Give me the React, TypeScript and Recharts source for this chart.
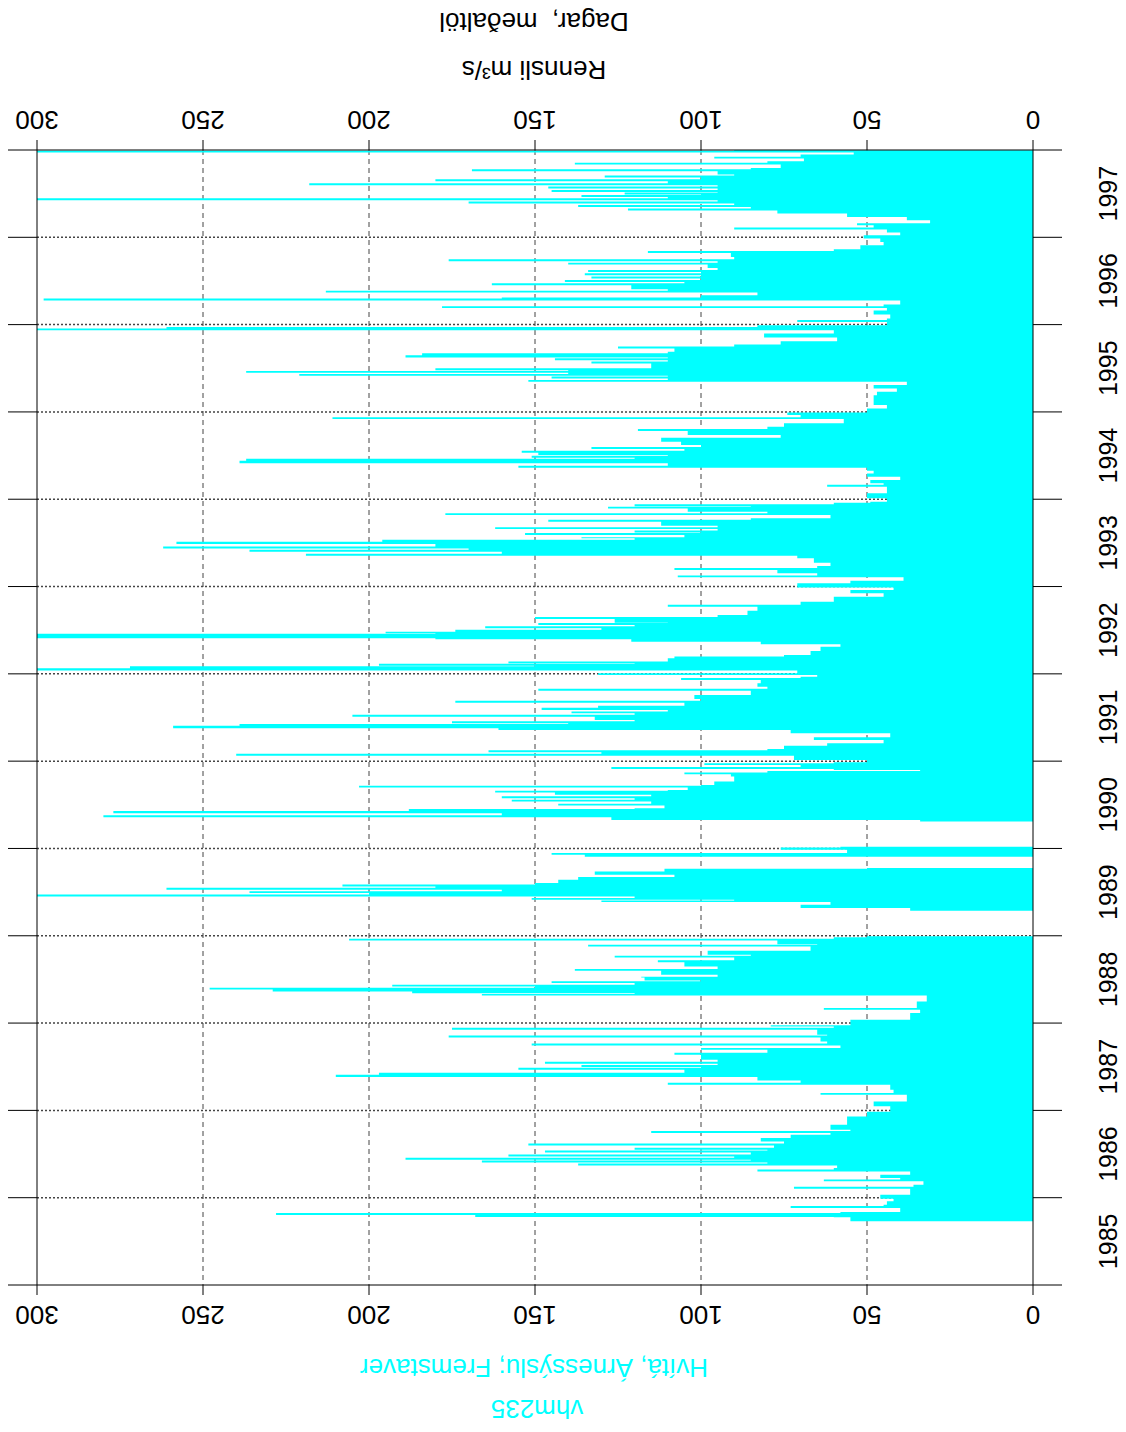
import React from 'react';
import { ComposedChart, Area, XAxis, YAxis, CartesianGrid } from 'recharts';

// daily discharge as [decimal year, m3/s]
const flow1985: [number, number][] = [
  [1985.729, 55], [1985.775, 60], [1985.78, 168], [1985.802, 228], [1985.825, 58], [1985.835, 40],
  [1985.883, 73], [1985.905, 45], [1985.92, 44], [1985.958, 42], [1985.989, 46],
];
const flow1986: [number, number][] = [
  [1986.034, 37], [1986.103, 72], [1986.125, 36], [1986.149, 33], [1986.187, 63], [1986.209, 40], [1986.226, 46],
  [1986.263, 37], [1986.301, 83], [1986.323, 60], [1986.34, 59], [1986.37, 137], [1986.392, 80], [1986.404, 166],
  [1986.426, 85], [1986.435, 189], [1986.457, 90], [1986.473, 158], [1986.495, 85], [1986.519, 147], [1986.541, 80],
  [1986.549, 120], [1986.571, 78], [1986.599, 152], [1986.621, 75], [1986.644, 82], [1986.683, 73], [1986.721, 61],
  [1986.741, 115], [1986.763, 55], [1986.778, 61], [1986.836, 56], [1986.893, 56], [1986.931, 50], [1986.984, 43],
];
const flow1987: [number, number][] = [
  [1987.046, 48], [1987.103, 38], [1987.18, 64], [1987.2, 42], [1987.237, 43], [1987.294, 110], [1987.316, 70],
  [1987.343, 83], [1987.382, 210], [1987.409, 197], [1987.431, 105], [1987.466, 155], [1987.488, 100],
  [1987.497, 136], [1987.519, 95], [1987.535, 147], [1987.557, 95], [1987.58, 100], [1987.638, 108], [1987.66, 80],
  [1987.695, 100], [1987.714, 58], [1987.744, 151], [1987.766, 62], [1987.79, 64], [1987.836, 176], [1987.858, 62],
  [1987.867, 65], [1987.924, 175], [1987.946, 60], [1987.962, 79], [1987.975, 55],
];
const flow1988: [number, number][] = [
  [1988.0, 55], [1988.038, 37], [1988.114, 34], [1988.152, 63], [1988.174, 35], [1988.19, 35], [1988.247, 32],
  [1988.304, 32], [1988.316, 166], [1988.333, 120], [1988.343, 187], [1988.362, 229], [1988.385, 248], [1988.405, 150],
  [1988.419, 193], [1988.44, 120], [1988.458, 145], [1988.48, 100], [1988.488, 117],
  [1988.522, 118], [1988.532, 95], [1988.553, 112], [1988.599, 138], [1988.62, 95], [1988.648, 105], [1988.698, 113],
  [1988.72, 90], [1988.751, 126], [1988.772, 85], [1988.782, 98], [1988.828, 67], [1988.877, 134], [1988.898, 65],
  [1988.904, 77], [1988.946, 206], [1988.966, 60], [1988.984, 50], [1988.995, 50],
];
const flow1989: [number, number][] = [
  [1989.286, 37], [1989.317, 70], [1989.355, 61], [1989.386, 130], [1989.405, 90], [1989.412, 151], [1989.432, 120],
  [1989.45, 300], [1989.472, 200], [1989.489, 236], [1989.51, 160], [1989.527, 261], [1989.549, 180], [1989.564, 208],
  [1989.586, 150], [1989.603, 143], [1989.641, 137], [1989.672, 108], [1989.698, 132], [1989.736, 111], [1989.767, 50],
  [1989.775, 50],
];
const flowLate1989: [number, number][] = [
  [1989.904, 135], [1989.927, 145], [1989.947, 56], [1989.976, 56], [1989.984, 76], [1990.01, 58], [1990.02, 58],
];
const flow1990: [number, number][] = [
  [1990.308, 34], [1990.327, 127], [1990.358, 280], [1990.38, 160], [1990.404, 277], [1990.43, 188],
  [1990.452, 120], [1990.461, 111], [1990.491, 143], [1990.513, 115], [1990.537, 157], [1990.559, 120], [1990.576, 160],
  [1990.598, 115], [1990.614, 144], [1990.64, 162], [1990.662, 110], [1990.671, 104], [1990.697, 203], [1990.719, 100],
  [1990.728, 96], [1990.766, 90], [1990.823, 91], [1990.851, 105], [1990.87, 80], [1990.888, 34], [1990.9, 60],
  [1990.911, 127], [1990.933, 70], [1990.957, 99], [1990.975, 60], [1990.988, 50],
];
const flow1991: [number, number][] = [
  [1991.014, 72], [1991.063, 240], [1991.085, 130], [1991.102, 164], [1991.124, 80], [1991.14, 75], [1991.177, 62],
  [1991.205, 45], [1991.243, 66], [1991.274, 43], [1991.319, 73], [1991.357, 161], [1991.377, 259],
  [1991.406, 239], [1991.426, 140], [1991.434, 175], [1991.456, 120], [1991.472, 132], [1991.509, 205],
  [1991.531, 120], [1991.548, 139], [1991.57, 110], [1991.586, 148], [1991.612, 131], [1991.634, 105],
  [1991.67, 174], [1991.692, 100], [1991.712, 102], [1991.758, 85], [1991.807, 149], [1991.829, 80], [1991.853, 83],
  [1991.892, 82], [1991.929, 106], [1991.951, 70], [1991.967, 65], [1991.987, 131],
];
const flow1992: [number, number][] = [
  [1992.007, 71], [1992.037, 300], [1992.064, 272], [1992.086, 150], [1992.094, 197], [1992.116, 120],
  [1992.121, 158], [1992.14, 110], [1992.179, 108], [1992.2, 75], [1992.216, 67], [1992.262, 64],
  [1992.311, 58], [1992.339, 82], [1992.369, 121], [1992.395, 180], [1992.408, 300], [1992.437, 300],
  [1992.46, 180], [1992.465, 195], [1992.483, 174], [1992.505, 130], [1992.522, 165], [1992.544, 120], [1992.56, 149],
  [1992.582, 110], [1992.586, 126], [1992.628, 150], [1992.65, 95], [1992.674, 86], [1992.723, 83], [1992.769, 110],
  [1992.79, 70], [1992.826, 60], [1992.884, 45], [1992.923, 55], [1992.96, 42], [1992.99, 71],
];
const flow1993: [number, number][] = [
  [1993.037, 55], [1993.066, 39], [1993.105, 107], [1993.127, 65], [1993.151, 77], [1993.189, 108], [1993.211, 65],
  [1993.235, 61], [1993.272, 66], [1993.323, 71], [1993.353, 219], [1993.375, 160], [1993.398, 236], [1993.42, 170],
  [1993.437, 262], [1993.459, 180], [1993.486, 258], [1993.513, 196], [1993.535, 120], [1993.552, 136],
  [1993.564, 105], [1993.59, 153], [1993.612, 100], [1993.62, 120], [1993.642, 95], [1993.658, 162], [1993.68, 95],
  [1993.696, 112], [1993.742, 146], [1993.764, 85], [1993.781, 61], [1993.818, 177], [1993.84, 80], [1993.856, 104],
  [1993.895, 128], [1993.915, 85], [1993.921, 120], [1993.943, 60], [1993.959, 49], [1993.971, 44],
];
const flow1994: [number, number][] = [
  [1994.01, 50], [1994.068, 44], [1994.105, 44], [1994.143, 62], [1994.165, 45], [1994.182, 49], [1994.22, 40],
  [1994.258, 50], [1994.296, 48], [1994.326, 50], [1994.361, 155], [1994.383, 110], [1994.411, 239],
  [1994.441, 237], [1994.463, 120], [1994.475, 151], [1994.497, 110], [1994.506, 149], [1994.532, 154], [1994.554, 105],
  [1994.575, 133], [1994.597, 100], [1994.62, 106], [1994.658, 112], [1994.704, 76], [1994.735, 104], [1994.781, 119],
  [1994.803, 80], [1994.83, 75], [1994.869, 57], [1994.918, 211], [1994.94, 70], [1994.964, 74], [1994.994, 50],
];
const flow1995: [number, number][] = [
  [1995.04, 44], [1995.078, 48], [1995.135, 48], [1995.192, 47], [1995.23, 41], [1995.269, 48], [1995.307, 38],
  [1995.345, 152], [1995.367, 110], [1995.383, 145], [1995.405, 110], [1995.413, 221], [1995.435, 140], [1995.448, 237],
  [1995.47, 140], [1995.478, 180], [1995.5, 115], [1995.516, 115], [1995.555, 133], [1995.577, 110], [1995.593, 144],
  [1995.615, 110], [1995.624, 189], [1995.65, 184], [1995.672, 110], [1995.688, 108], [1995.727, 125],
  [1995.749, 90], [1995.773, 76], [1995.81, 59], [1995.853, 81], [1995.899, 60], [1995.936, 300],
  [1995.955, 261], [1995.974, 83], [1995.993, 44],
];
const flow1996: [number, number][] = [
  [1996.031, 71], [1996.053, 44], [1996.07, 43], [1996.116, 48], [1996.161, 44], [1996.191, 178], [1996.211, 45],
  [1996.23, 40], [1996.276, 298], [1996.298, 160], [1996.31, 100], [1996.337, 83], [1996.367, 213],
  [1996.389, 110], [1996.405, 121], [1996.451, 163], [1996.473, 105], [1996.489, 141], [1996.511, 100], [1996.528, 133],
  [1996.55, 100], [1996.565, 135], [1996.587, 100], [1996.603, 134], [1996.625, 95], [1996.649, 98], [1996.688, 140],
  [1996.71, 95], [1996.726, 176], [1996.748, 90], [1996.775, 91], [1996.821, 116], [1996.843, 60], [1996.863, 52],
  [1996.909, 45], [1996.947, 46], [1996.986, 51],
];
const flow1997: [number, number][] = [
  [1997.024, 40], [1997.055, 44], [1997.089, 90], [1997.111, 48], [1997.139, 53], [1997.161, 31], [1997.196, 38],
  [1997.234, 56], [1997.272, 77], [1997.307, 122], [1997.329, 85], [1997.348, 137], [1997.37, 90], [1997.387, 170],
  [1997.409, 95], [1997.425, 300], [1997.447, 110], [1997.462, 136], [1997.484, 100], [1997.49, 123], [1997.512, 95],
  [1997.52, 145], [1997.542, 95], [1997.559, 146], [1997.581, 95], [1997.596, 218], [1997.618, 110], [1997.642, 180],
  [1997.664, 100], [1997.685, 129], [1997.707, 90], [1997.719, 95], [1997.757, 169], [1997.779, 85], [1997.794, 76],
  [1997.833, 138], [1997.855, 80], [1997.871, 69], [1997.902, 96], [1997.924, 70], [1997.948, 54], [1997.971, 300],
  [1997.99, 90], [1997.998, 90],
];
// no record in these spells
const gaps = [1989.0, 1989.8, 1990.1];

const yearBounds = [1985, 1986, 1987, 1988, 1989, 1990, 1991, 1992, 1993, 1994, 1995, 1996, 1997, 1998];
const yearMids = [1985.5, 1986.5, 1987.5, 1988.5, 1989.5, 1990.5, 1991.5, 1992.5, 1993.5, 1994.5, 1995.5, 1996.5, 1997.5];
const qTicks = [0, 50, 100, 150, 200, 250, 300];

const data = [
  ...[flow1985, flow1986, flow1987, flow1988, flow1989, flowLate1989, flow1990, flow1991,
    flow1992, flow1993, flow1994, flow1995, flow1996, flow1997].flat().map(([t, q]) => ({ t, q })),
  ...gaps.map((t) => ({ t, q: null })),
].sort((a, b) => a.t - b.t);

const FONT = '"Liberation Sans", Arial, Helvetica, sans-serif';
const CYAN = '#00FFFF';

const FlippedTick = (props: any) => {
  const { x, y, payload } = props;
  return (
    <text x={x} y={y} transform={`rotate(180 ${x} ${y})`} textAnchor="middle" dominantBaseline="central"
      fontSize={26} fontFamily={FONT} fill="#000">
      {payload.value}
    </text>
  );
};

const YearTick = (props: any) => {
  const { x, y, payload } = props;
  return (
    <text x={x} y={y} transform={`rotate(-90 ${x} ${y})`} textAnchor="middle" dominantBaseline="central"
      fontSize={25} fontFamily={FONT} fill="#000">
      {Math.floor(payload.value)}
    </text>
  );
};

const NoTick = () => <g />;

const Label = ({ x, y, text, color = '#000', size = 26 }: any) => (
  <div style={{
    position: 'absolute', left: x, top: y, transform: 'translate(-50%, -50%) rotate(180deg)',
    fontFamily: FONT, fontSize: size, color, whiteSpace: 'pre', lineHeight: 1,
  }}>{text}</div>
);

export default function App() {
  return (
    <div style={{ position: 'absolute', left: 0, top: 0, width: 1126, height: 1432, background: '#fff' }}>
      <ComposedChart width={1126} height={1432} data={data} layout="vertical"
        margin={{ top: 149, bottom: 146, left: 36, right: 91 }}>
        <CartesianGrid horizontal={false} stroke="#444" strokeDasharray="5 4" verticalValues={[50, 100, 150, 200, 250]} />
        <CartesianGrid vertical={false} stroke="#444" strokeDasharray="2 2" strokeWidth={1.5}
          horizontalValues={[1986, 1987, 1988, 1989, 1990, 1991, 1992, 1993, 1994, 1995, 1996, 1997]} />
        <Area dataKey="q" type="stepBefore" stroke="none" fill={CYAN} fillOpacity={1}
          isAnimationActive={false} connectNulls={false} />
        <XAxis type="number" orientation="top" domain={[0, 300]} ticks={qTicks} reversed height={1}
          interval={0} tickSize={10} tickMargin={20} tick={<FlippedTick />} stroke="#000" allowDataOverflow />
        <XAxis xAxisId="bottom" type="number" orientation="bottom" domain={[0, 300]} ticks={qTicks} reversed height={1}
          interval={0} tickSize={10} tickMargin={20} tick={<FlippedTick />} stroke="#000" allowDataOverflow />
        <YAxis type="number" dataKey="t" domain={[1985, 1998]} ticks={yearBounds} reversed width={1}
          interval={0} tickSize={29} tick={<NoTick />} stroke="#000" allowDataOverflow />
        <YAxis yAxisId="right" orientation="right" type="number" dataKey="t" domain={[1985, 1998]} ticks={yearBounds}
          reversed width={1} interval={0} tickSize={29} tick={<NoTick />} stroke="#000" />
        <YAxis yAxisId="years" orientation="right" type="number" dataKey="t" domain={[1985, 1998]} ticks={yearMids}
          reversed width={1} interval={0} tickSize={0} tickMargin={74} tickLine={false} axisLine={false}
          tick={<YearTick />} />
      </ComposedChart>
      <Label x={534} y={22} text={'Dagar,  meðaltöl'} />
      <Label x={534} y={70} text={'Rennsli m³/s'} />
      <Label x={534} y={1368} text={'Hvítá, Árnessýslu; Fremstaver'} color={CYAN} />
      <Label x={537} y={1409} text={'vhm235'} color={CYAN} />
    </div>
  );
}
